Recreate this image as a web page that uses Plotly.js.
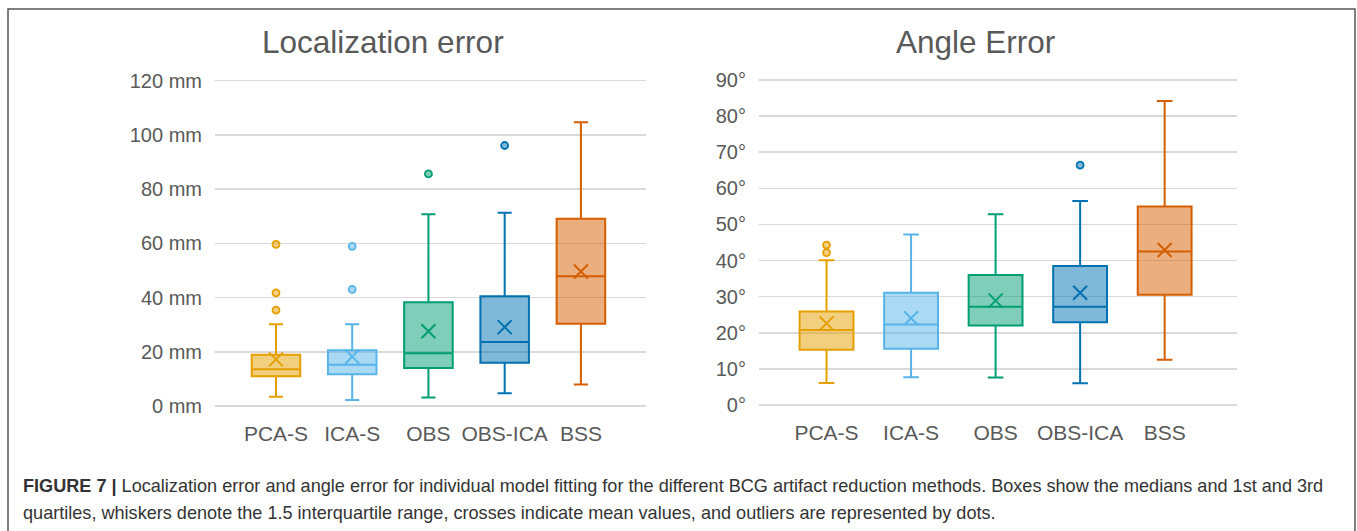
<!DOCTYPE html>
<html>
<head>
<meta charset="utf-8">
<script src="https://cdn.plot.ly/plotly-3.0.1.min.js"></script>
<style>
  html, body { margin: 0; padding: 0; background: #ffffff; }
  #chart { width: 1357px; height: 531px; }
</style>
</head>
<body>
<div id="chart"></div>
<script>
// ---- Data ----
const categories = ['PCA-S', 'ICA-S', 'OBS', 'OBS-ICA', 'BSS'];
const lineColors = ['#E69F00', '#56B4E9', '#009E73', '#0072B2', '#D55E00'];
const fillColors = ['rgba(230,159,0,0.5)', 'rgba(86,180,233,0.5)', 'rgba(0,158,115,0.5)', 'rgba(0,114,178,0.5)', 'rgba(213,94,0,0.5)'];

// Localization error (mm)
const locQ1     = [11.0, 11.7, 14.0, 16.0, 30.3];
const locMedian = [13.6, 15.2, 19.5, 23.6, 47.9];
const locQ3     = [18.9, 20.6, 38.3, 40.5, 69.1];
const locLower  = [3.4, 2.2, 3.1, 4.7, 7.9];
const locUpper  = [30.2, 30.2, 70.7, 71.3, 104.7];
const locMean   = [17.2, 18.2, 27.6, 29.1, 49.6];
const locOutlierCat = ['PCA-S', 'PCA-S', 'PCA-S', 'ICA-S', 'ICA-S', 'OBS', 'OBS-ICA'];
const locOutlierVal = [59.6, 41.7, 35.4, 58.9, 43.0, 85.6, 96.1];
const locTicks = [0, 20, 40, 60, 80, 100, 120];

// Angle error (degrees)
const angQ1     = [15.3, 15.6, 22.0, 22.9, 30.5];
const angMedian = [20.8, 22.3, 27.2, 27.2, 42.5];
const angQ3     = [25.9, 31.1, 36.0, 38.5, 55.0];
const angLower  = [6.1, 7.7, 7.6, 6.0, 12.5];
const angUpper  = [40.1, 47.2, 52.8, 56.5, 84.2];
const angMean   = [22.6, 24.0, 28.9, 31.1, 42.9];
const angOutlierCat = ['PCA-S', 'PCA-S', 'OBS-ICA'];
const angOutlierVal = [44.3, 42.2, 66.4];
const angTicks = [0, 10, 20, 30, 40, 50, 60, 70, 80, 90];

const titleLeft = 'Localization error';
const titleRight = 'Angle Error';
const captionLine1 = '<b>FIGURE 7 |</b> Localization error and angle error for individual model fitting for the different BCG artifact reduction methods. Boxes show the medians and 1st and 3rd';
const captionLine2 = 'quartiles, whiskers denote the 1.5 interquartile range, crosses indicate mean values, and outliers are represented by dots.';

// ---- Build traces ----
const W = 1357, H = 531;
const FONT = '"Liberation Sans", Arial, Helvetica, sans-serif';
const traces = [];

function addSet(xa, ya, q1, med, q3, lo, hi, mean, oCat, oVal) {
  categories.forEach((c, i) => {
    traces.push({
      type: 'box', x: [c], q1: [q1[i]], median: [med[i]], q3: [q3[i]],
      lowerfence: [lo[i]], upperfence: [hi[i]],
      boxpoints: false, whiskerwidth: 0.29,
      fillcolor: fillColors[i], line: { color: lineColors[i], width: 2 },
      xaxis: xa, yaxis: ya, showlegend: false, hoverinfo: 'skip'
    });
  });
  categories.forEach((c, i) => {
    const ys = oVal.filter((v, k) => oCat[k] === c);
    if (ys.length) {
      traces.push({
        type: 'scatter', mode: 'markers', x: ys.map(() => c), y: ys,
        marker: { symbol: 'circle', size: 7, color: fillColors[i], line: { color: lineColors[i], width: 1.8 } },
        xaxis: xa, yaxis: ya, showlegend: false, hoverinfo: 'skip', cliponaxis: false
      });
    }
  });
  traces.push({
    type: 'scatter', mode: 'markers', x: categories, y: mean,
    marker: { symbol: 'x-thin-open', size: 14, color: lineColors, line: { color: lineColors, width: 2 } },
    xaxis: xa, yaxis: ya, showlegend: false, hoverinfo: 'skip'
  });
}
addSet('x', 'y', locQ1, locMedian, locQ3, locLower, locUpper, locMean, locOutlierCat, locOutlierVal);
addSet('x2', 'y2', angQ1, angMedian, angQ3, angLower, angUpper, angMean, angOutlierCat, angOutlierVal);

const tickFont = { family: FONT, size: 20, color: '#595959' };
const xTickFont = { family: FONT, size: 21, color: '#595959' };
function xAxis(d0, d1, anchor) {
  return {
    domain: [d0 / W, d1 / W], anchor: anchor, type: 'category',
    categoryorder: 'array', categoryarray: categories,
    range: [-0.8, 4.85], showgrid: false, zeroline: false, showline: false,
    ticks: '', tickfont: xTickFont, ticklabelstandoff: 10, fixedrange: true
  };
}
// pad the value range by 3 px on each side so that the first and last gridlines are drawn
function yAxis(p0, p1, anchor, maxv, ticks, suffix) {
  const pad = 3;
  const perPx = maxv / (p1 - p0);
  return {
    domain: [1 - (p1 + pad) / H, 1 - (p0 - pad) / H], anchor: anchor,
    range: [-pad * perPx, maxv + pad * perPx],
    tickvals: ticks, ticktext: ticks.map(t => t + suffix),
    showgrid: true, gridcolor: '#d9d9d9', gridwidth: 1.5,
    zeroline: false, showline: false, ticks: '', tickfont: tickFont,
    ticklabelstandoff: 12, fixedrange: true
  };
}

const layout = {
  width: W, height: H, margin: { l: 0, r: 0, t: 0, b: 0 },
  paper_bgcolor: '#ffffff', plot_bgcolor: 'rgba(0,0,0,0)',
  boxmode: 'overlay', boxgap: 0.09, showlegend: false,
  font: { family: FONT, color: '#595959' },
  xaxis: xAxis(215, 645.7, 'y'),
  yaxis: yAxis(80.7, 406, 'x', 120, locTicks, ' mm'),
  xaxis2: xAxis(758.9, 1236.5, 'y2'),
  yaxis2: yAxis(80, 405, 'x2', 90, angTicks, '°'),
  shapes: [{
    type: 'rect', xref: 'paper', yref: 'paper',
    x0: 8 / W, x1: 1355 / W, y0: -0.2, y1: 1 - 9 / H,
    line: { color: '#555555', width: 1.5 }, fillcolor: 'rgba(0,0,0,0)', layer: 'below'
  }],
  annotations: [
    { text: titleLeft, xref: 'paper', yref: 'paper', x: 383 / W, y: 1 - 42 / H, xanchor: 'center', yanchor: 'middle', showarrow: false, font: { family: FONT, size: 31.5, color: '#595959' } },
    { text: titleRight, xref: 'paper', yref: 'paper', x: 975 / W, y: 1 - 42 / H, xanchor: 'center', yanchor: 'middle', showarrow: false, font: { family: FONT, size: 31.5, color: '#595959' } },
    { text: captionLine1, xref: 'paper', yref: 'paper', x: 21 / W, y: 1 - 486 / H, xanchor: 'left', yanchor: 'middle', showarrow: false, align: 'left', font: { family: FONT, size: 18.1, color: '#333333' } },
    { text: captionLine2, xref: 'paper', yref: 'paper', x: 21 / W, y: 1 - 513 / H, xanchor: 'left', yanchor: 'middle', showarrow: false, align: 'left', font: { family: FONT, size: 18.1, color: '#333333' } }
  ]
};

Plotly.newPlot('chart', traces, layout, { staticPlot: true, displayModeBar: false });
</script>
</body>
</html>
